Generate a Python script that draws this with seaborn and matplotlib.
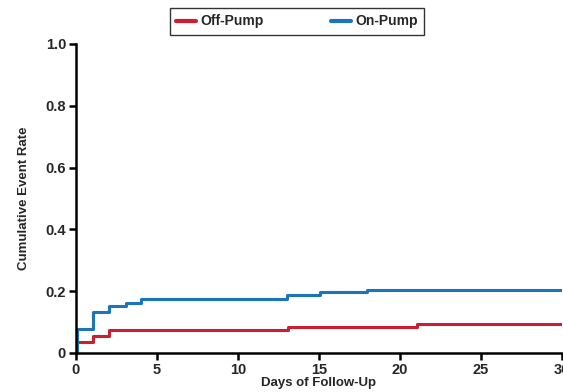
import numpy as np
import pandas as pd
import matplotlib
matplotlib.use("Agg")
import matplotlib.pyplot as plt
import seaborn as sns

# ── data ──────────────────────────────────────────────────────────────────────
off_days = [0, 0.05, 1.05, 2.05, 13.1, 21.05, 30]
off_rate = [0, 0.036, 0.055, 0.075, 0.083, 0.094, 0.094]

on_days = [0, 0.05, 1.05, 2.05, 3.1, 4.05, 13.05, 15.05, 18.0, 30]
on_rate = [0, 0.078, 0.134, 0.152, 0.161, 0.175, 0.188, 0.196, 0.205, 0.205]

groups = ["Off-Pump", "On-Pump"]
colors = ["#C8202F", "#1B75BC"]
x_ticks = [0, 5, 10, 15, 20, 25, 30]
y_ticks = [0, 0.2, 0.4, 0.6, 0.8, 1.0]
y_tick_labels = ["0", "0.2", "0.4", "0.6", "0.8", "1.0"]

df = pd.concat([
    pd.DataFrame({"day": off_days, "rate": off_rate, "group": groups[0]}),
    pd.DataFrame({"day": on_days, "rate": on_rate, "group": groups[1]}),
])

# ── plot ──────────────────────────────────────────────────────────────────────
sns.set_style("ticks")
plt.rcParams["font.family"] = ["Liberation Sans", "DejaVu Sans"]

fig = plt.figure(figsize=(5.63, 3.92), dpi=100)
ax = fig.add_axes([0.1345, 0.0995, 0.8635, 0.7885])

sns.lineplot(data=df, x="day", y="rate", hue="group", palette=colors,
             hue_order=groups, estimator=None, drawstyle="steps-post",
             linewidth=2.2, ax=ax)

ax.set_xlim(0, 30)
ax.set_ylim(0, 1.0)
ax.set_xticks(x_ticks)
ax.set_xticklabels([str(t) for t in x_ticks], fontweight="bold", fontsize=10.5)
ax.set_yticks(y_ticks)
ax.set_yticklabels(y_tick_labels, fontweight="bold", fontsize=10.5)
ax.tick_params(length=5, width=1.8, color="black", pad=2)

for side in ["top", "right"]:
    ax.spines[side].set_visible(False)
for side in ["left", "bottom"]:
    ax.spines[side].set_linewidth(1.8)
    ax.spines[side].set_color("black")

ax.set_xlabel("Days of Follow-Up", fontweight="bold", fontsize=9.5, labelpad=0)
ax.set_ylabel("Cumulative Event Rate", fontweight="bold", fontsize=9.5, labelpad=11)

leg = ax.legend(loc="lower center", bbox_to_anchor=(0.455, 1.03), ncol=2,
                frameon=True, fancybox=False, handlelength=1.4,
                handletextpad=0.3, columnspacing=4.9, borderpad=0.45,
                borderaxespad=0, prop={"weight": "bold", "size": 10})
leg.get_frame().set_edgecolor("black")
leg.get_frame().set_linewidth(1.0)
for line in leg.get_lines():
    line.set_linewidth(3)

fig.savefig("out.png", dpi=100)
